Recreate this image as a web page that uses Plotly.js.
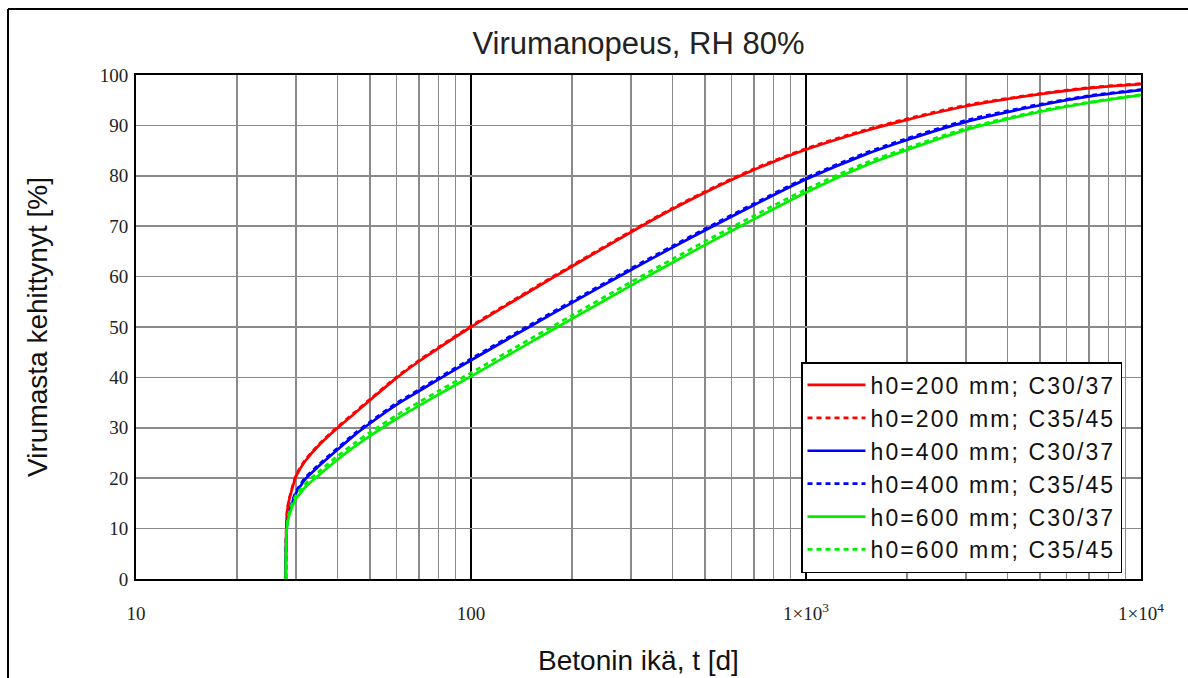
<!DOCTYPE html>
<html>
<head>
<meta charset="utf-8">
<script src="https://cdn.plot.ly/plotly-3.0.1.min.js"></script>
<style>
html,body{margin:0;padding:0;background:#fff;}
#chart{width:1188px;height:678px;}
text.legendtext{letter-spacing:2.1px;}
</style>
</head>
<body>
<div id="chart"></div>
<script>
// Age of concrete t [d]
const t = [28, 28.05, 28.2, 28.5, 29, 30, 31, 32, 35, 40, 45, 50, 60, 70, 80, 100, 150, 200, 300, 400, 500, 700, 1000, 1500, 2000, 3000, 5000, 7000, 10000];

// Creep developed [%]
const h200_C30 = [0, 8, 12.5, 15, 17, 20.3, 22.0, 23.4, 26.4, 30.0, 32.9, 35.5, 39.9, 43.2, 45.8, 50.0, 57.1, 62.0, 68.8, 73.4, 76.7, 81.2, 85.2, 88.9, 91.1, 93.8, 96.2, 97.4, 98.2];
const h200_C35 = [0, 8.2, 12.7, 15.2, 17.2, 20.5, 22.2, 23.6, 26.6, 30.2, 33.1, 35.7, 40.1, 43.4, 46.0, 50.2, 57.3, 62.2, 69.0, 73.6, 76.9, 81.4, 85.4, 89.1, 91.3, 94.0, 96.3, 97.5, 98.3];
const h400_C30 = [0, 6.5, 10.5, 12.5, 14.3, 17.0, 18.5, 19.8, 22.3, 25.7, 28.6, 30.9, 34.6, 37.3, 39.6, 43.4, 50.1, 54.8, 61.3, 65.8, 69.2, 74.2, 79.3, 84.2, 87.1, 90.7, 94.0, 95.75, 97.0];
const h400_C35 = [0, 6.7, 10.8, 12.8, 14.6, 17.3, 18.8, 20.1, 22.6, 26.0, 28.9, 31.2, 34.9, 37.6, 39.9, 43.7, 50.4, 55.1, 61.6, 66.1, 69.5, 74.5, 79.6, 84.5, 87.4, 91.0, 94.2, 95.9, 97.1];
const h600_C30 = [0, 6, 10, 12, 13.6, 15.9, 17.1, 18.2, 20.5, 23.7, 26.3, 28.4, 31.8, 34.4, 36.6, 40.2, 46.9, 51.6, 58.2, 62.8, 66.3, 71.4, 76.7, 82.0, 85.1, 89.1, 92.7, 94.5, 96.0];
const h600_C35 = [0, 6.5, 10.6, 12.7, 14.3, 16.6, 17.8, 18.9, 21.2, 24.4, 27.0, 29.1, 32.5, 35.1, 37.3, 40.9, 47.6, 52.3, 58.9, 63.5, 67.0, 72.1, 77.3, 82.5, 85.5, 89.4, 92.9, 94.6, 96.1];

const seriesNames = ['h0=200 mm; C30/37', 'h0=200 mm; C35/45', 'h0=400 mm; C30/37', 'h0=400 mm; C35/45', 'h0=600 mm; C30/37', 'h0=600 mm; C35/45'];
const seriesData = [h200_C30, h200_C35, h400_C30, h400_C35, h600_C30, h600_C35];
const seriesColors = ['#ff0000', '#ff0000', '#0000ff', '#0000ff', '#00f000', '#00f000'];
const seriesDash = ['solid', '5px,4px', 'solid', '5px,4px', 'solid', '5px,4px'];

const xTickVals = [10, 100, 1000, 10000];
const xTickText = ['10', '100', '1×10<sup>3</sup>', '1×10<sup>4</sup>'];

const traces = seriesData.map((y, i) => ({
  x: t, y: y, type: 'scatter', mode: 'lines', name: seriesNames[i],
  line: {color: seriesColors[i], width: 2.7, dash: seriesDash[i], shape: 'spline', smoothing: 0.8}
}));

const W = 1188, H = 678, L = 136, R = 47, T = 75, B = 99;
const pw = W - L - R, ph = H - T - B;

const layout = {
  width: W, height: H,
  margin: {l: L, r: R, t: T, b: B},
  paper_bgcolor: '#fff', plot_bgcolor: '#fff',
  font: {family: 'Liberation Sans, Arial, sans-serif', color: '#111'},
  title: {text: 'Virumanopeus, RH 80%', font: {size: 31, family: 'Liberation Sans, Arial, sans-serif', color: '#222'},
          xref: 'paper', x: 0.5, xanchor: 'center', yref: 'container', y: 1 - 43 / H, yanchor: 'middle'},
  xaxis: {
    type: 'log', range: [1, 4], tickvals: xTickVals, ticktext: xTickText,
    showgrid: true, gridcolor: '#000', gridwidth: 1.5,
    minor: {dtick: 'D1', showgrid: true, gridcolor: '#8a8a8a', gridwidth: 1.5, ticks: ''},
    showline: true, linecolor: '#000', linewidth: 2, mirror: true, ticks: '', zeroline: false,
    tickfont: {family: 'Liberation Serif, Times New Roman, serif', size: 19, color: '#222'},
    ticklabelstandoff: 16,
    title: {text: 'Betonin ikä, t [d]', font: {size: 28, color: '#111'}, standoff: 28},
    automargin: false
  },
  yaxis: {
    range: [0, 100], dtick: 10, showgrid: true, gridcolor: '#8a8a8a', gridwidth: 1.5,
    showline: true, linecolor: '#000', linewidth: 2, mirror: true, ticks: '', zeroline: false,
    tickfont: {family: 'Liberation Serif, Times New Roman, serif', size: 19, color: '#222'},
    ticklabelstandoff: 2,
    title: {text: 'Virumasta kehittynyt [%]', font: {size: 28, color: '#111'}, standoff: 44},
    automargin: false
  },
  legend: {
    x: (801 - L) / pw, y: (579 - 362) / ph, xanchor: 'left', yanchor: 'top',
    bgcolor: '#fff', bordercolor: '#000', borderwidth: 1.5,
    font: {size: 23, family: 'Liberation Sans, Arial, sans-serif', color: '#111'},
    tracegroupgap: 0, itemwidth: 58
  },
  shapes: [
    {type: 'line', xref: 'paper', yref: 'paper', x0: (8 - L) / pw, x1: (8 - L) / pw, y0: 1 + (T - 9) / ph, y1: -B / ph - 0.05, line: {color: '#000', width: 2}},
    {type: 'line', xref: 'paper', yref: 'paper', x0: (8 - L) / pw, x1: 1 + R / pw + 0.05, y0: 1 + (T - 9) / ph, y1: 1 + (T - 9) / ph, line: {color: '#000', width: 2}}
  ],
  showlegend: true
};

Plotly.newPlot('chart', traces, layout, {staticPlot: true, displayModeBar: false});
</script>
</body>
</html>
